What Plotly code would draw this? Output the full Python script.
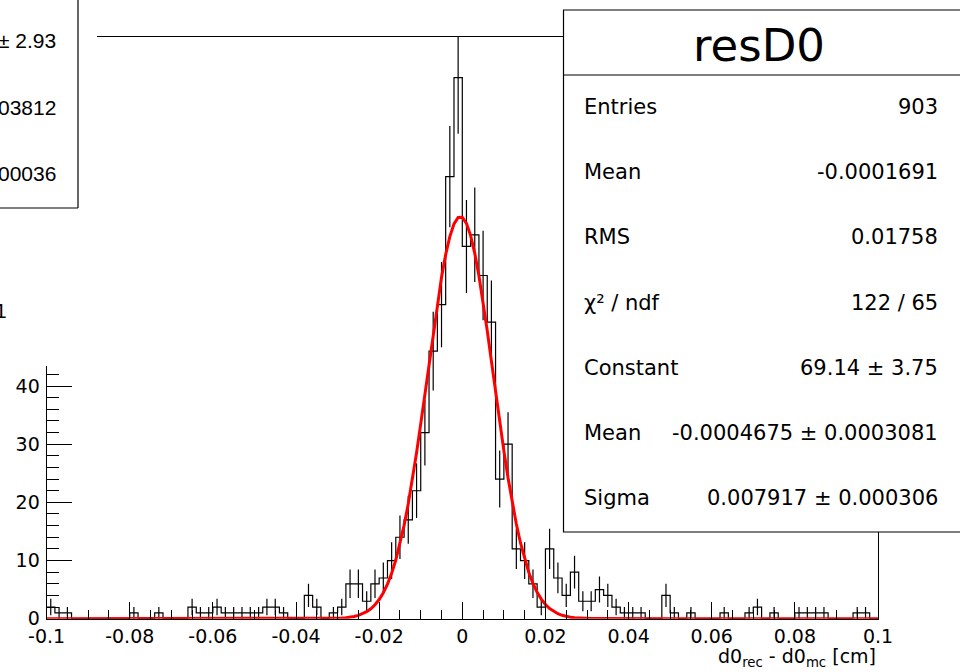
import numpy as np
import plotly.graph_objects as go

# ---------------- data ----------------
x_min, x_max = -0.1, 0.1
n_bins = 100
counts = [
    2, 1, 1, 0, 0, 0, 0, 0, 0, 0,
    1, 0, 0, 1, 0, 0, 0, 2, 1, 1,
    2, 1, 1, 1, 1, 1, 2, 2, 1, 0,
    0, 4, 2, 0, 1, 2, 6, 6, 3, 6,
    7, 10, 14, 17, 22, 32, 46, 54, 76, 93,
    64, 66, 59, 51, 24, 30, 12, 10, 6, 2,
    12, 7, 4, 8, 3, 3, 5, 4, 2, 1,
    1, 1, 0, 0, 4, 1, 0, 1, 0, 0,
    0, 1, 0, 0, 1, 2, 0, 1, 0, 0,
    1, 1, 1, 1, 0, 0, 0, 1, 1, 0,
]
fit_constant = 69.14
fit_mean = -0.0004675
fit_sigma = 0.007917

x_tick_vals = [-0.1, -0.08, -0.06, -0.04, -0.02, 0, 0.02, 0.04, 0.06, 0.08, 0.1]
x_tick_text = ["-0.1", "-0.08", "-0.06", "-0.04", "-0.02", "0", "0.02", "0.04", "0.06", "0.08", "0.1"]
y_tick_vals = [0, 10, 20, 30, 40, 50, 60, 70, 80, 90, 100]
y_tick_text = ["0", "10", "20", "30", "40", "50", "60", "70", "80", "90", "100"]
x_title = "d0<sub>rec</sub> - d0<sub>mc</sub> [cm]"

stats_title = "resD0"
stats_labels = ["Entries", "Mean", "RMS", "\u03c7\u00b2 / ndf", "Constant", "Mean", "Sigma"]
stats_values = ["903", "-0.0001691", "0.01758", "122 / 65", "69.14 \u00b1 3.75",
                "-0.0004675 \u00b1 0.0003081", "0.007917 \u00b1 0.000306"]
left_box_values = ["\u00b1 2.93", "03812", "00036"]
left_stray_text = "1"

# ---------------- geometry helpers ----------------
W, H = 960, 672
FONT = "DejaVu Sans, Verdana, sans-serif"
FONT_NARROW = "Liberation Sans, Arial, Helvetica, sans-serif"


def px(x):
    return x / W


def py(y):
    return 1 - y / H


edges = np.linspace(x_min, x_max, n_bins + 1)
centers = 0.5 * (edges[:-1] + edges[1:])
cnt = np.array(counts, dtype=float)

fig = go.Figure()

# histogram outline (step)
fig.add_trace(go.Scatter(
    x=edges, y=np.append(cnt, cnt[-1]), mode="lines", line_shape="hv",
    line=dict(color="black", width=1.2), hoverinfo="skip"))

# error bars (non-empty bins)
mask = cnt > 0
fig.add_trace(go.Scatter(
    x=centers[mask], y=cnt[mask], mode="markers",
    marker=dict(size=1, color="rgba(0,0,0,0)"),
    error_y=dict(type="data", array=np.sqrt(cnt[mask]), visible=True,
                 width=0, thickness=1.2, color="black"),
    hoverinfo="skip"))

# gaussian fit
xf = np.linspace(x_min, x_max, 201)
yf = fit_constant * np.exp(-0.5 * ((xf - fit_mean) / fit_sigma) ** 2)
fig.add_trace(go.Scatter(x=xf, y=yf, mode="lines",
                         line=dict(color="#ff0000", width=3), hoverinfo="skip"))

shapes = []
annotations = []

# white region hiding top-left part of the axis (cropped overlapping pad)
shapes.append(dict(type="rect", xref="paper", yref="paper",
                   x0=px(-5), x1=px(97), y0=py(366), y1=py(-5),
                   fillcolor="white", line=dict(width=0), layer="above"))
# left (cropped) stats box borders
shapes.append(dict(type="line", xref="paper", yref="paper",
                   x0=px(78), x1=px(78), y0=py(208), y1=py(-2),
                   line=dict(color="black", width=1.2), layer="above"))
shapes.append(dict(type="line", xref="paper", yref="paper",
                   x0=px(-2), x1=px(78), y0=py(208), y1=py(208),
                   line=dict(color="black", width=1.2), layer="above"))
for i, t in enumerate(left_box_values):
    annotations.append(dict(xref="paper", yref="paper", x=px(58), y=py(40 + 67 * i),
                            text=t, showarrow=False, xanchor="right", yanchor="middle",
                            font=dict(family=FONT_NARROW, size=21, color="black")))
annotations.append(dict(xref="paper", yref="paper", x=px(9), y=py(310),
                        text=left_stray_text, showarrow=False, xanchor="right",
                        yanchor="middle", font=dict(family=FONT_NARROW, size=21, color="black")))

# stats box
box_l, box_t, box_b, box_div = 563.5, 10, 532, 75
shapes.append(dict(type="rect", xref="paper", yref="paper",
                   x0=px(box_l), x1=px(975), y0=py(box_b), y1=py(box_t),
                   fillcolor="white", line=dict(color="black", width=1.2), layer="above"))
shapes.append(dict(type="line", xref="paper", yref="paper",
                   x0=px(box_l), x1=px(975), y0=py(box_div), y1=py(box_div),
                   line=dict(color="black", width=1.2), layer="above"))
annotations.append(dict(xref="paper", yref="paper", x=px(759), y=py(46),
                        text=stats_title, showarrow=False, xanchor="center",
                        yanchor="middle", font=dict(family=FONT, size=45, color="black")))
for i, (lab, val) in enumerate(zip(stats_labels, stats_values)):
    yy = 107 + 65.2 * i
    annotations.append(dict(xref="paper", yref="paper", x=px(582), y=py(yy),
                            text=lab, showarrow=False, xanchor="left", yanchor="middle",
                            font=dict(family=FONT, size=21, color="black")))
    annotations.append(dict(xref="paper", yref="paper", x=px(940), y=py(yy),
                            text=val, showarrow=False, xanchor="right", yanchor="middle",
                            font=dict(family=FONT, size=21, color="black")))

# x axis title
annotations.append(dict(xref="paper", yref="paper", x=px(878), y=py(657),
                        text=x_title, showarrow=False, xanchor="right", yanchor="middle",
                        font=dict(family=FONT, size=19, color="black")))

fig.update_layout(
    template="none", autosize=False,
    width=W, height=H, margin=dict(l=0, r=0, t=0, b=0, pad=0),
    paper_bgcolor="white", plot_bgcolor="white", showlegend=False,
    shapes=shapes, annotations=annotations,
    xaxis=dict(domain=[px(46.6), px(878)], range=[x_min, x_max], automargin=False,
               tickvals=x_tick_vals, ticktext=x_tick_text,
               ticks="inside", ticklen=17, tickwidth=1, tickcolor="black",
               showline=True, linecolor="black", linewidth=1, mirror=True,
               showgrid=False, zeroline=False,
               tickfont=dict(family=FONT, size=19, color="black"),
               minor=dict(dtick=0.005, tick0=0, ticks="inside", ticklen=9,
                          tickcolor="black", tickwidth=1, showgrid=False)),
    yaxis=dict(domain=[py(618.7), py(37)], range=[0, 100], automargin=False,
               tickvals=y_tick_vals, ticktext=y_tick_text,
               ticks="inside", ticklen=25, tickwidth=1, tickcolor="black",
               showline=True, linecolor="black", linewidth=1, mirror=True,
               showgrid=False, zeroline=False, ticklabelstandoff=2,
               tickfont=dict(family=FONT, size=19, color="black"),
               minor=dict(dtick=2, tick0=0, ticks="inside", ticklen=12,
                          tickcolor="black", tickwidth=1, showgrid=False)),
)

fig.write_html("out.html")
